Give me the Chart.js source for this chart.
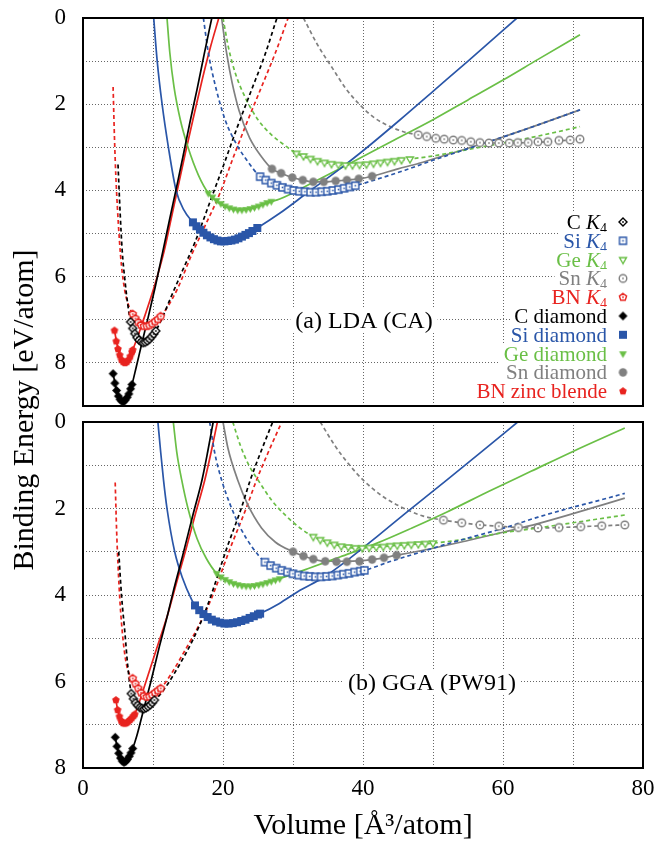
<!DOCTYPE html>
<html>
<head>
<meta charset="utf-8">
<script src="https://cdn.jsdelivr.net/npm/chart.js@4.4.1/dist/chart.umd.min.js"></script>
<style>
body { margin: 0; background: #fff; }
#wrap { position: relative; width: 655px; height: 845px; overflow: hidden; }
#topChart { position: absolute; left: 0; top: 0; }
#botChart { position: absolute; left: 0; top: 412px; }
#ytitle {
    position: absolute; left: -276px; top: 392px; width: 600px; height: 36px;
    line-height: 36px; text-align: center; font: 30px 'Liberation Serif', serif;
    transform: rotate(-90deg); white-space: nowrap;
}
</style>
</head>
<body>
<div id="wrap">
    <canvas id="topChart" width="655" height="412"></canvas>
    <canvas id="botChart" width="655" height="433"></canvas>
    <div id="ytitle">Binding Energy [eV/atom]</div>
</div>
<script>
// 轴刻度
const xTicks = [0, 20, 40, 60, 80];
const yTicksLda = [0, 2, 4, 6, 8];
const yTicksGga = [0, 2, 4, 6, 8];

// 图例
const legendLabels = ['C K4', 'Si K4', 'Ge K4', 'Sn K4', 'BN K4',
    'C diamond', 'Si diamond', 'Ge diamond', 'Sn diamond', 'BN zinc blende'];
const panelLabels = ['(a) LDA (CA)', '(b) GGA (PW91)'];

// ===== (a) LDA 数据 [体积, 结合能] =====
const ldaCK4Fit = [[5.0,3.4],[5.3,4.5],[5.6,5.4],[6.0,6.1],[6.4,6.65],[6.8,7.05],[7.5,7.36],[8.6,7.53],[9.6,7.43],[10.3,7.28],[11.2,7.0],[12.5,6.5],[14.1,5.9],[16.0,5.2],[18.4,4.15],[20.0,3.45],[22.0,2.55],[24.0,1.7],[26.0,0.85],[27.7,0.0]];
const ldaCK4Pts = [[6.8,7.05],[7.1,7.2],[7.4,7.32],[7.7,7.41],[8.0,7.47],[8.3,7.51],[8.6,7.53],[8.9,7.52],[9.2,7.49],[9.5,7.45],[9.8,7.39],[10.1,7.33],[10.4,7.26]];
const ldaSiK4Fit = [[17.2,0.0],[17.9,0.8],[18.8,1.5],[20.3,2.36],[22.0,2.95],[23.5,3.32],[25.3,3.68],[27.7,3.88],[30.1,4.0],[32.5,4.04],[34.9,4.02],[37.3,3.95],[38.9,3.89],[42,3.74],[46,3.53],[50,3.3],[52.4,3.17],[55,3.03],[60,2.76],[65,2.48],[71,2.13]];
const ldaSiK4Pts = [[25.3,3.68],[26.1,3.76],[26.9,3.83],[27.7,3.88],[28.5,3.93],[29.3,3.97],[30.1,4.0],[30.9,4.02],[31.7,4.03],[32.5,4.04],[33.3,4.04],[34.1,4.03],[34.9,4.02],[35.7,4.0],[36.5,3.98],[37.3,3.95],[38.1,3.92],[38.9,3.89]];
const ldaGeK4Fit = [[20.0,0.0],[20.8,0.7],[21.8,1.3],[23.2,1.85],[25.0,2.36],[27.0,2.72],[28.8,2.95],[30.5,3.14],[33.5,3.31],[37.5,3.41],[41.5,3.37],[46.7,3.27],[50,3.2],[52.4,3.13],[56,3.02],[60,2.9],[65,2.74],[71,2.52]];
const ldaGeK4Pts = [[30.5,3.14],[31.5,3.2],[32.5,3.26],[33.5,3.31],[34.5,3.35],[35.5,3.38],[36.5,3.4],[37.5,3.41],[38.5,3.41],[39.5,3.4],[40.5,3.39],[41.5,3.37],[42.5,3.35],[43.5,3.33],[44.5,3.31],[45.5,3.29],[46.7,3.27]];
const ldaSnK4Fit = [[31.5,0.0],[33.5,0.62],[35.7,1.18],[37.6,1.65],[39.6,2.02],[41.5,2.3],[43.9,2.52],[46.0,2.65],[47.9,2.71],[50.4,2.79],[52.9,2.83],[55.4,2.87],[58.0,2.9],[60.9,2.9],[63.6,2.89],[66.4,2.87],[69.6,2.83],[71.0,2.81]];
const ldaSnK4Pts = [[47.9,2.71],[49.1,2.75],[50.4,2.79],[51.6,2.81],[52.9,2.83],[54.1,2.84],[55.4,2.87],[56.7,2.89],[58.0,2.9],[59.4,2.9],[60.9,2.9],[62.1,2.89],[63.6,2.89],[65.0,2.87],[66.4,2.87],[68.0,2.84],[69.6,2.83],[71.0,2.81]];
const ldaBNK4Fit = [[4.3,1.6],[4.5,2.8],[4.7,3.7],[4.9,4.35],[5.2,5.15],[5.5,5.75],[6.0,6.35],[6.5,6.66],[7.1,6.87],[8.0,7.08],[8.8,7.15],[9.6,7.12],[10.4,7.03],[11.1,6.92],[12.0,6.72],[13.5,6.28],[15.5,5.5],[17.5,4.8],[19.6,4.05],[21.5,3.22],[23.4,2.43],[25.5,1.6],[27.5,0.8],[29.3,0.0]];
const ldaBNK4Pts = [[7.1,6.87],[7.5,6.97],[7.9,7.06],[8.3,7.12],[8.7,7.15],[9.1,7.15],[9.5,7.13],[9.9,7.09],[10.3,7.04],[10.7,6.99],[11.1,6.92]];
const ldaCDiaFit = [[4.3,8.25],[4.8,8.65],[5.2,8.84],[5.6,8.9],[6.0,8.87],[6.5,8.74],[7.0,8.5],[7.6,8.1],[8.4,7.55],[9.3,6.95],[10.3,6.25],[11.4,5.42],[12.4,4.65],[13.4,3.9],[14.3,3.2],[15.3,2.4],[16.3,1.65],[17.3,0.85],[18.4,0.0]];
const ldaCDiaPts = [[4.3,8.25],[4.55,8.47],[4.8,8.64],[5.05,8.77],[5.3,8.85],[5.55,8.89],[5.8,8.9],[6.05,8.86],[6.3,8.8],[6.55,8.72],[6.8,8.6],[7.0,8.5]];
const ldaSiDiaFit = [[10.1,0.0],[10.6,1.0],[11.3,2.0],[12.2,3.0],[13.3,4.0],[14.4,4.45],[15.7,4.74],[17.0,4.97],[18.5,5.12],[20.0,5.18],[21.5,5.15],[23.0,5.05],[24.9,4.87],[28.1,4.53],[32.0,4.06],[36.7,3.5],[40.0,3.08],[45.3,2.36],[50.0,1.7],[55.0,1.0],[62.0,0.0]];
const ldaSiDiaPts = [[15.7,4.74],[16.2,4.83],[16.7,4.91],[17.2,4.98],[17.7,5.04],[18.2,5.09],[18.7,5.13],[19.2,5.16],[19.7,5.18],[20.2,5.18],[20.7,5.17],[21.2,5.16],[21.7,5.14],[22.2,5.11],[22.7,5.07],[23.2,5.03],[23.7,4.99],[24.2,4.94],[24.9,4.87]];
const ldaGeDiaFit = [[12.0,0.0],[12.4,0.8],[13.0,1.6],[13.9,2.36],[15.0,3.0],[16.5,3.65],[17.9,4.06],[19.5,4.3],[21.0,4.42],[22.4,4.45],[24.0,4.42],[25.5,4.34],[26.7,4.27],[28.1,4.2],[32.9,3.81],[37.7,3.41],[44.0,2.87],[50.0,2.36],[55.0,1.9],[60.0,1.44],[65.0,0.96],[71.0,0.39]];
const ldaGeDiaPts = [[17.9,4.06],[18.5,4.15],[19.1,4.23],[19.7,4.3],[20.3,4.36],[20.9,4.4],[21.5,4.43],[22.1,4.45],[22.7,4.45],[23.3,4.44],[23.9,4.42],[24.5,4.39],[25.1,4.36],[25.7,4.32],[26.3,4.28],[26.9,4.25]];
const ldaSnDiaFit = [[19.8,0.0],[20.5,0.8],[21.3,1.5],[22.3,2.15],[23.8,2.78],[25.5,3.22],[27.0,3.5],[28.3,3.6],[29.9,3.7],[31.4,3.76],[32.9,3.8],[34.4,3.8],[36.1,3.78],[37.7,3.76],[39.4,3.73],[41.3,3.67],[45,3.5],[48,3.37],[52.4,3.15],[55,3.02],[60,2.76],[65,2.48],[71,2.13]];
const ldaSnDiaPts = [[27.0,3.5],[28.3,3.6],[29.9,3.7],[31.4,3.76],[32.9,3.8],[34.4,3.8],[36.1,3.78],[37.7,3.76],[39.4,3.73],[41.3,3.67]];
const ldaBNzbFit = [[4.5,7.25],[5.0,7.68],[5.5,7.93],[6.0,8.0],[6.6,7.9],[7.1,7.7],[7.8,7.4],[8.6,7.02],[9.6,6.53],[10.6,6.0],[11.6,5.4],[12.6,4.65],[13.6,3.9],[14.6,3.15],[15.7,2.36],[17.0,1.45],[18.2,0.68],[19.4,0.0]];
const ldaBNzbPts = [[4.5,7.25],[4.75,7.5],[5.0,7.68],[5.25,7.82],[5.5,7.93],[5.75,7.98],[6.0,8.0],[6.25,7.98],[6.5,7.93],[6.75,7.85],[7.0,7.75],[7.1,7.7]];

// ===== (b) GGA 数据 =====
const ggaCK4Fit = [[5.1,3.0],[5.5,4.0],[6.0,4.9],[6.4,5.65],[6.9,6.28],[7.5,6.5],[8.6,6.62],[9.5,6.55],[10.3,6.43],[11.5,6.2],[13.1,5.8],[15.8,5.0],[17.7,4.28],[20.6,2.89],[22.6,2.0],[23.9,1.34],[25.5,0.65],[27.1,0.0]];
const ggaCK4Pts = [[6.9,6.28],[7.2,6.4],[7.5,6.49],[7.8,6.55],[8.1,6.6],[8.4,6.62],[8.7,6.63],[9.0,6.61],[9.3,6.58],[9.6,6.54],[9.9,6.49],[10.2,6.43]];
const ggaSiK4Fit = [[18.1,0.0],[18.8,0.7],[19.8,1.34],[21.0,1.9],[22.5,2.45],[24.2,2.9],[26.0,3.24],[28.4,3.43],[30.8,3.54],[33.2,3.58],[35.6,3.56],[38.0,3.5],[40.2,3.43],[44,3.22],[48,3.02],[52,2.82],[56,2.64],[60,2.46],[65,2.2],[70,1.97],[74,1.8],[77.4,1.65]];
const ggaSiK4Pts = [[26.0,3.24],[26.8,3.32],[27.6,3.38],[28.4,3.43],[29.2,3.47],[30.0,3.51],[30.8,3.54],[31.6,3.56],[32.4,3.57],[33.2,3.58],[34.0,3.58],[34.8,3.57],[35.6,3.56],[36.4,3.54],[37.2,3.52],[38.0,3.5],[38.8,3.47],[39.6,3.45],[40.2,3.43]];
const ggaGeK4Fit = [[21.4,0.0],[22.5,0.55],[23.7,1.0],[25.0,1.34],[27.0,1.82],[29.0,2.17],[31.0,2.45],[32.9,2.65],[35.9,2.83],[38.9,2.91],[41.9,2.89],[45.9,2.84],[50.0,2.8],[55,2.7],[60,2.56],[65,2.45],[70,2.33],[77.4,2.15]];
const ggaGeK4Pts = [[32.9,2.65],[33.9,2.72],[34.9,2.78],[35.9,2.83],[36.9,2.87],[37.9,2.89],[38.9,2.91],[39.9,2.91],[40.9,2.9],[41.9,2.89],[42.9,2.88],[43.9,2.86],[44.9,2.85],[45.9,2.84],[46.9,2.83],[47.9,2.82],[48.9,2.81],[50.0,2.8]];
const ggaSnK4Fit = [[33.9,0.0],[36.0,0.55],[38.0,0.98],[40.0,1.34],[43.0,1.74],[46.3,2.03],[48.5,2.17],[51.5,2.27],[54.1,2.33],[56.7,2.38],[59.4,2.41],[62.2,2.44],[65.0,2.45],[68.0,2.44],[71.1,2.42],[74.1,2.4],[77.4,2.38]];
const ggaSnK4Pts = [[51.5,2.27],[54.1,2.33],[56.7,2.38],[59.4,2.41],[62.2,2.44],[65.0,2.45],[68.0,2.44],[71.1,2.42],[74.1,2.4],[77.4,2.38]];
const ggaBNK4Fit = [[4.6,1.4],[4.8,2.5],[5.0,3.3],[5.3,4.2],[5.7,5.0],[6.2,5.6],[6.7,5.85],[7.1,5.93],[8.0,6.22],[8.9,6.36],[9.5,6.36],[10.3,6.27],[11.1,6.16],[12.5,5.85],[14.5,5.3],[16.5,4.72],[18.3,4.1],[21.1,2.89],[23.3,2.0],[24.8,1.34],[26.6,0.65],[28.4,0.0]];
const ggaBNK4Pts = [[7.1,5.93],[7.5,6.05],[7.9,6.16],[8.3,6.26],[8.7,6.33],[9.1,6.36],[9.5,6.35],[9.9,6.31],[10.3,6.26],[10.7,6.21],[11.1,6.16]];
const ggaCDiaFit = [[4.6,7.29],[5.0,7.6],[5.5,7.82],[5.9,7.87],[6.5,7.76],[7.1,7.55],[7.7,7.25],[8.5,6.75],[9.7,6.0],[10.9,5.2],[12.1,4.45],[13.0,3.85],[14.3,3.05],[15.7,2.15],[17.0,1.34],[17.8,0.7],[18.6,0.0]];
const ggaCDiaPts = [[4.6,7.29],[4.85,7.5],[5.1,7.66],[5.35,7.77],[5.6,7.84],[5.85,7.87],[6.1,7.85],[6.35,7.8],[6.6,7.73],[6.85,7.65],[7.1,7.55]];
const ggaSiDiaFit = [[10.7,0.0],[11.1,0.7],[11.5,1.34],[12.0,2.0],[13.1,3.0],[14.2,3.6],[15.5,4.1],[16.0,4.24],[17.2,4.44],[18.4,4.57],[19.6,4.64],[20.5,4.66],[21.4,4.65],[22.6,4.6],[23.8,4.53],[25.3,4.43],[28.0,4.2],[31.0,3.89],[34.3,3.6],[37.5,3.23],[42,2.65],[46,2.12],[52,1.34],[57,0.68],[62.1,0.0]];
const ggaSiDiaPts = [[16.0,4.24],[16.6,4.35],[17.2,4.44],[17.8,4.51],[18.4,4.57],[19.0,4.61],[19.6,4.64],[20.2,4.66],[20.8,4.66],[21.4,4.65],[22.0,4.63],[22.6,4.6],[23.2,4.57],[23.8,4.53],[24.4,4.49],[25.0,4.45],[25.3,4.43]];
const ggaGeDiaFit = [[12.9,0.0],[13.4,0.7],[14.1,1.34],[15.0,2.0],[16.3,2.7],[17.6,3.15],[19.1,3.5],[20.9,3.69],[22.7,3.78],[23.6,3.79],[25.1,3.76],[26.9,3.68],[28.1,3.62],[32,3.4],[36.7,3.12],[42,2.8],[47,2.45],[52,2.08],[58,1.6],[64,1.14],[70,0.68],[77.4,0.14]];
const ggaGeDiaPts = [[19.1,3.5],[19.7,3.58],[20.3,3.64],[20.9,3.69],[21.5,3.73],[22.1,3.76],[22.7,3.78],[23.3,3.79],[23.9,3.79],[24.5,3.78],[25.1,3.76],[25.7,3.74],[26.3,3.71],[26.9,3.68],[27.5,3.65],[28.1,3.62]];
const ggaSnDiaFit = [[20.0,0.0],[20.7,0.6],[22.1,1.34],[23.5,1.9],[25.5,2.45],[27.5,2.78],[30.0,3.0],[31.5,3.1],[32.9,3.17],[34.6,3.22],[37.7,3.22],[41.3,3.18],[44.8,3.08],[50,2.92],[55,2.74],[60,2.55],[65,2.35],[70,2.12],[77.4,1.76]];
const ggaSnDiaPts = [[30.0,3.0],[31.5,3.1],[32.9,3.17],[34.6,3.22],[36.2,3.23],[37.7,3.23],[39.5,3.22],[41.3,3.18],[43.0,3.14],[44.8,3.08]];
const ggaBNzbFit = [[4.7,6.43],[5.0,6.7],[5.5,6.92],[6.0,6.97],[6.7,6.9],[7.4,6.75],[8.1,6.45],[9.0,6.0],[10.5,5.25],[12.1,4.45],[13.3,3.75],[14.7,2.95],[16.1,2.1],[17.4,1.34],[18.3,0.7],[19.2,0.0]];
const ggaBNzbPts = [[4.7,6.43],[4.95,6.66],[5.2,6.81],[5.45,6.91],[5.7,6.96],[5.95,6.97],[6.2,6.96],[6.45,6.93],[6.7,6.89],[6.95,6.85],[7.2,6.8],[7.4,6.76]];

// 颜色
const COLORS = { C: '#000000', Si: '#2a56a8', Ge: '#6abf46', Sn: '#808080', BN: '#e8231f' };
const FONT = "'Liberation Serif', 'Times New Roman', serif";

// 生成标记图形
function makeMarker(shape, color, open, r) {
    const s = Math.ceil(2 * r + 4);
    const c = document.createElement('canvas');
    c.width = c.height = s;
    const g = c.getContext('2d');
    const m = s / 2;
    g.beginPath();
    if (shape === 'circle') {
        g.arc(m, m, r, 0, Math.PI * 2);
    } else if (shape === 'square') {
        g.rect(m - r, m - r, 2 * r, 2 * r);
    } else {
        const n = shape === 'diamond' ? 4 : shape === 'tri' ? 3 : 5;
        const a0 = shape === 'tri' ? Math.PI / 2 : -Math.PI / 2;
        for (let i = 0; i < n; i++) {
            const a = a0 + i * 2 * Math.PI / n;
            g.lineTo(m + r * Math.cos(a), m + r * Math.sin(a));
        }
        g.closePath();
    }
    if (open) {
        g.fillStyle = '#fff';
        g.fill();
        g.lineWidth = 1.4;
        g.strokeStyle = color;
        g.stroke();
        if (shape !== 'tri') {
            g.fillStyle = color;
            g.fillRect(m - 0.8, m - 0.8, 1.6, 1.6);
        }
    } else {
        g.fillStyle = color;
        g.fill();
    }
    return c;
}

const MARKERS = {
    K4: {
        C: makeMarker('diamond', COLORS.C, true, 4),
        Si: makeMarker('square', COLORS.Si, true, 3.5),
        Ge: makeMarker('tri', COLORS.Ge, true, 4),
        Sn: makeMarker('circle', COLORS.Sn, true, 3.8),
        BN: makeMarker('pent', COLORS.BN, true, 3.8)
    },
    dia: {
        C: makeMarker('diamond', COLORS.C, false, 4.5),
        Si: makeMarker('square', COLORS.Si, false, 4),
        Ge: makeMarker('tri', COLORS.Ge, false, 4.5),
        Sn: makeMarker('circle', COLORS.Sn, false, 4.2),
        BN: makeMarker('pent', COLORS.BN, false, 4)
    }
};

function toXY(arr) {
    return arr.map(p => ({ x: p[0], y: p[1] }));
}

function fitSet(arr, color, dashed) {
    return {
        data: toXY(arr),
        showLine: true,
        borderColor: color,
        borderWidth: 1.7,
        borderDash: dashed ? [4, 3] : [],
        pointRadius: 0,
        cubicInterpolationMode: 'monotone',
        fill: false,
        order: 2
    };
}

function ptsSet(arr, marker) {
    return {
        data: toXY(arr),
        showLine: false,
        pointStyle: marker,
        pointRadius: 4,
        order: 1
    };
}

function buildDatasets(p) {
    const names = ['C', 'Si', 'Ge', 'Sn', 'BN'];
    const sets = [];
    names.forEach((n, i) => {
        sets.push(fitSet(p.k4Fit[i], COLORS[n], true));
        sets.push(fitSet(p.diaFit[i], COLORS[n], false));
    });
    names.forEach((n, i) => {
        sets.push(ptsSet(p.k4Pts[i], MARKERS.K4[n]));
        sets.push(ptsSet(p.diaPts[i], MARKERS.dia[n]));
    });
    return sets;
}

const ldaSets = buildDatasets({
    k4Fit: [ldaCK4Fit, ldaSiK4Fit, ldaGeK4Fit, ldaSnK4Fit, ldaBNK4Fit],
    k4Pts: [ldaCK4Pts, ldaSiK4Pts, ldaGeK4Pts, ldaSnK4Pts, ldaBNK4Pts],
    diaFit: [ldaCDiaFit, ldaSiDiaFit, ldaGeDiaFit, ldaSnDiaFit, ldaBNzbFit],
    diaPts: [ldaCDiaPts, ldaSiDiaPts, ldaGeDiaPts, ldaSnDiaPts, ldaBNzbPts]
});
const ggaSets = buildDatasets({
    k4Fit: [ggaCK4Fit, ggaSiK4Fit, ggaGeK4Fit, ggaSnK4Fit, ggaBNK4Fit],
    k4Pts: [ggaCK4Pts, ggaSiK4Pts, ggaGeK4Pts, ggaSnK4Pts, ggaBNK4Pts],
    diaFit: [ggaCDiaFit, ggaSiDiaFit, ggaGeDiaFit, ggaSnDiaFit, ggaBNzbFit],
    diaPts: [ggaCDiaPts, ggaSiDiaPts, ggaGeDiaPts, ggaSnDiaPts, ggaBNzbPts]
});

// 面板标签（白底）
function drawPanelLabel(ctx, text, cx, cy) {
    ctx.save();
    ctx.font = '24px ' + FONT;
    const w = ctx.measureText(text).width;
    ctx.fillStyle = '#fff';
    ctx.fillRect(cx - w / 2 - 5, cy - 12, w + 10, 24);
    ctx.fillStyle = '#000';
    ctx.textAlign = 'center';
    ctx.textBaseline = 'alphabetic';
    ctx.fillText(text, cx, cy + 8);
    ctx.restore();
}

// 图例
function drawLegend(ctx, area) {
    const names = ['C', 'Si', 'Ge', 'Sn', 'BN'];
    const rightX = 607, markX = 623, y0 = 222, dy = 18.8;
    ctx.save();
    legendLabels.forEach((label, i) => {
        const n = names[i % 5];
        const color = COLORS[n];
        const yc = y0 + i * dy;
        const base = yc + 7;
        let parts;
        if (label.endsWith('K4')) {
            parts = [
                { t: label.slice(0, -2), f: '21px ' + FONT, dy: 0 },
                { t: 'K', f: 'italic 21px ' + FONT, dy: 0 },
                { t: '4', f: '14px ' + FONT, dy: 4 }
            ];
        } else {
            parts = [{ t: label, f: '21px ' + FONT, dy: 0 }];
        }
        let total = 0;
        parts.forEach(p => { ctx.font = p.f; p.w = ctx.measureText(p.t).width; total += p.w; });
        let x = rightX - total;
        ctx.fillStyle = '#fff';
        ctx.fillRect(x - 4, yc - dy / 2, area.right - 1 - (x - 4), dy + 0.5);
        ctx.fillStyle = color;
        ctx.textBaseline = 'alphabetic';
        ctx.textAlign = 'left';
        parts.forEach(p => {
            ctx.font = p.f;
            ctx.fillText(p.t, x, base + p.dy);
            x += p.w;
        });
        const mk = i < 5 ? MARKERS.K4[n] : MARKERS.dia[n];
        ctx.drawImage(mk, markX - mk.width / 2, yc - mk.height / 2);
    });
    ctx.restore();
}

// 外框
const framePlugin = {
    id: 'frame',
    afterDraw(chart) {
        const { ctx, chartArea: a } = chart;
        ctx.save();
        ctx.strokeStyle = '#000';
        ctx.lineWidth = 2;
        ctx.strokeRect(a.left, a.top, a.right - a.left, a.bottom - a.top);
        ctx.restore();
    }
};

function makeOptions(yMax, yLabels, showX, xHeight) {
    return {
        responsive: false,
        animation: false,
        devicePixelRatio: 1,
        layout: { padding: { top: showX ? 10 : 18, right: 12, left: 0, bottom: 0 } },
        plugins: { legend: { display: false }, tooltip: { enabled: false } },
        scales: {
            x: {
                type: 'linear',
                min: 0,
                max: 80,
                ticks: {
                    display: showX,
                    stepSize: 10,
                    padding: 7,
                    color: '#000',
                    font: { family: FONT, size: 23 },
                    callback: v => xTicks.includes(v) ? v : ''
                },
                grid: { color: 'rgba(0,0,0,0.6)', lineWidth: 1, drawTicks: false, borderDash: [1, 2] },
                border: { display: false, dash: [1, 2] },
                title: {
                    display: showX,
                    text: 'Volume [Å³/atom]',
                    color: '#000',
                    font: { family: FONT, size: 30 },
                    padding: { top: 0, bottom: 1 }
                },
                afterFit: s => {
                    s.height = xHeight;
                    s.paddingLeft = 0;
                    s.paddingRight = 0;
                }
            },
            y: {
                type: 'linear',
                reverse: true,
                min: 0,
                max: yMax,
                ticks: {
                    stepSize: 1,
                    padding: 17,
                    color: '#000',
                    font: { family: FONT, size: 23 },
                    callback: v => yLabels.includes(v) ? v : ''
                },
                grid: { color: 'rgba(0,0,0,0.6)', lineWidth: 1, drawTicks: false, borderDash: [1, 2] },
                border: { display: false, dash: [1, 2] },
                afterFit: s => {
                    s.width = 83;
                    s.paddingTop = 0;
                    s.paddingBottom = 0;
                }
            }
        }
    };
}

document.addEventListener('DOMContentLoaded', function() {
    new Chart(document.getElementById('topChart'), {
        type: 'scatter',
        data: { datasets: ldaSets },
        options: makeOptions(9, yTicksLda, false, 6),
        plugins: [framePlugin, {
            id: 'ldaDeco',
            beforeDatasetsDraw(chart) {
                drawPanelLabel(chart.ctx, panelLabels[0], 364, 320);
                drawLegend(chart.ctx, chart.chartArea);
            }
        }]
    });

    new Chart(document.getElementById('botChart'), {
        type: 'scatter',
        data: { datasets: ggaSets },
        options: makeOptions(8, yTicksGga, true, 77),
        plugins: [framePlugin, {
            id: 'ggaDeco',
            beforeDatasetsDraw(chart) {
                drawPanelLabel(chart.ctx, panelLabels[1], 432, 270);
            }
        }]
    });
});
</script>
</body>
</html>
